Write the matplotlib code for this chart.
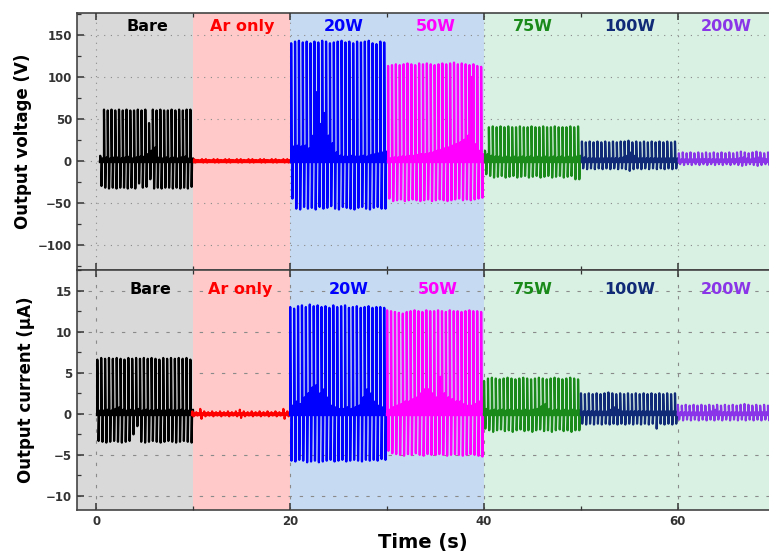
import matplotlib.pyplot as plt
import numpy as np
from matplotlib.ticker import MultipleLocator

# treatment windows (s)
seg_names = ['Bare', 'Ar only', '20W', '50W', '75W', '100W', '200W']
seg_start_v = [0.4, 10.1, 20.1, 30.1, 40.1, 50.1, 60.1]
seg_start_i = [0.1, 9.9, 20.0, 30.0, 40.0, 50.0, 60.0]
seg_end = [10.0, 20.0, 30.0, 40.0, 50.0, 60.0, 70.0]
seg_colors = ['#000000', '#ff0000', '#0000ff', '#ff00ff', '#1a8a1a', '#102a78', '#8a35e8']

# shaded backgrounds
bg_start = [-2, 10, 20, 40]
bg_end = [10, 20, 40, 72]
bg_colors = ['#d9d9d9', '#ffc9c9', '#c6daf1', '#d8f1e2']

# output voltage (V): positive peak, negative peak, secondary bump per cycle
bare_v_pos = [6, 61, 60, 61, 60, 61, 60, 61, 60, 60, 61, 60, 61, 45, 61, 60, 61, 60, 60, 61, 60, 61, 60, 61, 61]
bare_v_neg = [-30, -32, -33, -32, -33, -32, -32, -33, -32, -33, -27, -32, -31, -22, -33, -32, -33, -32, -32, -33, -32, -33, -32, -33, -31]
bare_v_mid = [3, 4, 3, 4, 4, 3, 4, 5, 3, 4, 5, 5, 8, 12, 16, 4, 3, 4, 3, 4, 3, 4, 5, 3, 3]

ar_v_pos = [2, 1, 2, 2, 1, 2, 2, 1, 2, 2, 1, 2, 2, 1, 2, 2, 1, 2, 2, 1, 2, 2, 1, 2, 2]
ar_v_neg = [-2, -1, -2, -2, -1, -2, -2, -1, -2, -2, -1, -2, -2, -1, -2, -2, -1, -2, -2, -1, -2, -2, -1, -2, -2]
ar_v_mid = [1, 1, 1, 1, 1, 1, 1, 1, 1, 1, 1, 1, 1, 1, 1, 1, 1, 1, 1, 1, 1, 1, 1, 1, 1]

w20_v_pos = [140, 142, 143, 141, 142, 140, 142, 141, 143, 142, 140, 141, 142, 143, 141, 142, 140, 142, 141, 142, 143, 140, 139, 142, 141]
w20_v_neg = [-45, -57, -58, -55, -57, -56, -58, -55, -57, -56, -54, -57, -58, -55, -56, -57, -58, -56, -55, -57, -58, -56, -55, -57, -57]
w20_v_mid = [17, 18, 17, 18, 15, 30, 82, 44, 57, 30, 21, 10, 6, 5, 5, 6, 5, 5, 6, 5, 7, 8, 9, 10, 11]

w50_v_pos = [113, 114, 115, 114, 115, 116, 115, 114, 116, 115, 116, 115, 114, 115, 116, 115, 116, 117, 115, 116, 115, 114, 115, 113, 112]
w50_v_neg = [-45, -48, -47, -46, -48, -47, -46, -47, -48, -47, -46, -48, -47, -46, -47, -48, -47, -46, -45, -47, -46, -47, -46, -45, -44]
w50_v_mid = [3, 4, 4, 5, 5, 6, 6, 7, 8, 8, 9, 10, 12, 13, 15, 16, 18, 20, 22, 25, 30, 100, 20, 12, 8]

w75_v_pos = [12, 40, 41, 40, 41, 40, 41, 40, 40, 41, 40, 40, 41, 40, 40, 41, 40, 40, 41, 40, 40, 40, 41, 40, 41]
w75_v_neg = [-16, -18, -20, -19, -18, -20, -19, -18, -20, -19, -18, -20, -19, -18, -20, -19, -18, -20, -19, -18, -20, -19, -18, -22, -22]
w75_v_mid = [8, 6, 5, 5, 4, 5, 4, 5, 4, 5, 4, 5, 4, 5, 4, 5, 4, 5, 4, 5, 4, 5, 4, 5, 6]

w100_v_pos = [23, 22, 23, 22, 23, 22, 23, 22, 23, 22, 23, 23, 24, 22, 23, 22, 23, 22, 23, 22, 23, 22, 23, 22, 23]
w100_v_neg = [-9, -10, -9, -10, -9, -10, -9, -10, -9, -10, -9, -10, -12, -10, -9, -10, -9, -10, -9, -10, -9, -10, -9, -10, -9]
w100_v_mid = [4, 3, 3, 3, 3, 3, 3, 3, 3, 3, 4, 6, 10, 6, 3, 3, 3, 3, 3, 3, 3, 3, 3, 3, 3]

w200_v_pos = [9, 10, 9, 10, 9, 10, 9, 10, 9, 10, 9, 10, 9, 10, 9, 10, 11, 10, 9, 10, 11, 10, 9, 10, 9]
w200_v_neg = [-4, -5, -4, -5, -4, -5, -4, -5, -4, -5, -4, -5, -4, -5, -4, -5, -6, -5, -4, -5, -6, -5, -4, -5, -4]
w200_v_mid = [2, 2, 2, 2, 2, 2, 2, 2, 2, 2, 2, 2, 2, 2, 2, 3, 4, 3, 2, 3, 4, 3, 2, 2, 2]

# output current (uA)
bare_i_pos = [6.6, 6.8, 6.7, 6.8, 6.7, 6.8, 6.7, 6.6, 6.8, 6.7, 6.8, 6.7, 6.8, 6.7, 6.8, 6.7, 6.6, 6.8, 6.7, 6.8, 6.7, 6.8, 6.7, 6.8, 6.6]
bare_i_neg = [-3.3, -3.4, -3.5, -3.4, -3.3, -3.4, -3.5, -3.4, -3.3, -2.5, -1.5, -3.4, -3.5, -3.4, -3.3, -3.4, -3.5, -3.4, -3.3, -3.4, -3.5, -3.4, -3.3, -3.4, -3.5]
bare_i_mid = [0.4, 0.4, 0.5, 0.4, 0.6, 0.8, 0.5, 0.4, 0.5, 0.4, 0.6, 0.4, 0.5, 0.4, 0.4, 0.5, 0.4, 0.4, 0.5, 0.4, 0.4, 0.5, 0.4, 0.4, 0.5]

ar_i_pos = [0.3, 0.2, 0.6, 0.3, 0.2, 0.3, 0.2, 0.3, 0.2, 0.3, 0.2, 0.3, 0.5, 0.3, 0.2, 0.3, 0.2, 0.3, 0.2, 0.3, 0.2, 0.3, 0.2, 0.6, 0.3]
ar_i_neg = [-0.3, -0.2, -0.6, -0.3, -0.2, -0.3, -0.2, -0.3, -0.2, -0.3, -0.2, -0.3, -0.5, -0.3, -0.2, -0.3, -0.2, -0.3, -0.2, -0.3, -0.2, -0.3, -0.2, -0.6, -0.3]
ar_i_mid = [0.1, 0.1, 0.1, 0.1, 0.1, 0.1, 0.1, 0.1, 0.1, 0.1, 0.1, 0.1, 0.1, 0.1, 0.1, 0.1, 0.1, 0.1, 0.1, 0.1, 0.1, 0.1, 0.1, 0.1, 0.1]

w20_i_pos = [13.0, 12.8, 13.1, 13.2, 13.0, 13.3, 13.1, 13.2, 13.0, 13.1, 12.9, 13.2, 13.0, 13.1, 13.2, 12.9, 13.0, 13.1, 12.9, 13.0, 13.1, 12.9, 13.0, 13.0, 12.9]
w20_i_neg = [-5.7, -5.8, -5.6, -5.7, -5.9, -5.8, -5.7, -5.9, -5.8, -5.7, -5.6, -5.8, -5.7, -5.6, -5.8, -5.7, -5.6, -5.7, -5.8, -5.6, -5.7, -5.6, -5.7, -5.5, -5.6]
w20_i_mid = [1.0, 1.5, 1.2, 2.0, 2.5, 3.2, 3.5, 2.5, 3.0, 2.0, 1.0, 0.8, 0.6, 0.6, 0.8, 0.6, 0.8, 1.0, 2.0, 3.0, 2.5, 1.5, 1.0, 0.8, 0.6]

w50_i_pos = [12.6, 12.5, 12.4, 12.3, 12.2, 12.4, 12.5, 12.6, 12.5, 12.4, 12.6, 12.5, 12.5, 12.6, 12.5, 12.4, 12.6, 12.5, 12.5, 12.4, 12.5, 12.6, 12.5, 12.5, 12.4]
w50_i_neg = [-4.5, -4.8, -4.9, -5.0, -5.1, -4.9, -5.0, -4.8, -5.0, -5.1, -4.9, -5.0, -5.0, -4.9, -5.0, -5.1, -5.0, -4.9, -5.0, -5.1, -5.0, -4.9, -5.0, -5.1, -5.2]
w50_i_mid = [0.5, 0.8, 1.0, 1.2, 1.5, 1.5, 1.8, 2.0, 2.5, 3.0, 3.0, 2.5, 2.0, 4.5, 2.5, 2.0, 1.8, 1.5, 1.5, 1.2, 1.0, 1.0, 1.2, 1.5, 2.0]

w75_i_pos = [4.0, 4.3, 4.4, 4.3, 4.2, 4.3, 4.4, 4.3, 4.2, 4.3, 4.4, 4.3, 4.2, 4.3, 4.4, 4.3, 4.2, 4.3, 4.4, 4.3, 4.2, 4.3, 4.4, 4.3, 4.2]
w75_i_neg = [-1.8, -2.0, -2.2, -2.0, -1.9, -2.1, -2.0, -2.2, -2.0, -1.9, -2.1, -2.0, -2.2, -2.0, -1.9, -2.1, -2.0, -2.2, -2.0, -1.9, -2.1, -2.0, -2.2, -2.0, -2.0]
w75_i_mid = [0.6, 0.4, 0.5, 0.4, 0.5, 0.4, 0.5, 0.4, 0.5, 0.4, 0.5, 0.4, 0.5, 0.6, 0.9, 1.2, 0.6, 0.4, 0.5, 0.4, 0.5, 0.4, 0.5, 0.4, 0.5]

w100_i_pos = [2.5, 2.4, 2.5, 2.4, 2.5, 2.4, 2.5, 2.6, 2.5, 2.4, 2.5, 2.4, 2.5, 2.4, 2.5, 2.4, 2.5, 2.4, 2.5, 2.4, 2.5, 2.4, 2.5, 2.4, 2.5]
w100_i_neg = [-1.2, -1.3, -1.2, -1.3, -1.2, -1.3, -1.2, -1.3, -1.2, -1.3, -1.2, -1.3, -1.2, -1.3, -1.2, -1.3, -1.2, -1.3, -1.2, -1.8, -1.2, -1.3, -1.2, -1.3, -1.2]
w100_i_mid = [0.3, 0.3, 0.3, 0.3, 0.3, 0.3, 0.3, 0.5, 0.8, 0.5, 0.3, 0.3, 0.3, 0.3, 0.3, 0.3, 0.3, 0.3, 0.3, 0.3, 0.3, 0.3, 0.3, 0.3, 0.3]

w200_i_pos = [1.1, 1.0, 1.1, 1.0, 1.1, 1.0, 1.1, 1.0, 1.1, 1.0, 1.1, 1.0, 1.1, 1.0, 1.1, 1.0, 1.1, 1.2, 1.1, 1.0, 1.1, 1.0, 1.1, 1.0, 1.1]
w200_i_neg = [-0.7, -0.8, -0.7, -0.8, -0.7, -0.8, -0.7, -0.8, -0.7, -0.8, -0.7, -0.8, -0.7, -0.8, -0.7, -0.8, -0.7, -0.8, -0.7, -0.8, -0.7, -0.8, -0.7, -0.8, -0.7]
w200_i_mid = [0.2, 0.2, 0.2, 0.2, 0.2, 0.2, 0.2, 0.2, 0.3, 0.5, 0.3, 0.2, 0.2, 0.2, 0.2, 0.2, 0.2, 0.2, 0.2, 0.2, 0.2, 0.2, 0.2, 0.2, 0.2]

volt = [(bare_v_pos, bare_v_neg, bare_v_mid), (ar_v_pos, ar_v_neg, ar_v_mid),
        (w20_v_pos, w20_v_neg, w20_v_mid), (w50_v_pos, w50_v_neg, w50_v_mid),
        (w75_v_pos, w75_v_neg, w75_v_mid), (w100_v_pos, w100_v_neg, w100_v_mid),
        (w200_v_pos, w200_v_neg, w200_v_mid)]
curr = [(bare_i_pos, bare_i_neg, bare_i_mid), (ar_i_pos, ar_i_neg, ar_i_mid),
        (w20_i_pos, w20_i_neg, w20_i_mid), (w50_i_pos, w50_i_neg, w50_i_mid),
        (w75_i_pos, w75_i_neg, w75_i_mid), (w100_i_pos, w100_i_neg, w100_i_mid),
        (w200_i_pos, w200_i_neg, w200_i_mid)]

label_x_v = [5.3, 15.0, 25.5, 35.0, 45.0, 55.0, 65.0]
label_x_i = [5.6, 14.8, 26.0, 35.2, 45.0, 55.0, 65.0]


def trace(ax, t0, t1, pos, neg, mid, color):
    "dibuja un tren de pulsos: pico positivo, pico negativo y rebote"
    times = np.linspace(t0, t1 - 0.3, len(pos))
    xs, ys = [t0], [0]
    for t, p, q, m in zip(times, pos, neg, mid):
        xs += [t, t, t + 0.05, t + 0.13, t + 0.13, t + 0.18, t + 0.27, t + 0.31]
        ys += [0, p, 0, 0, q, 0, m, 0]
    ax.plot(xs, ys, color=color, lw=1.6, zorder=3)
    ax.plot([t0, t1], [0, 0], color=color, lw=2.4, zorder=3)


def style(ax, grid_ls):
    for s, e, c in zip(bg_start, bg_end, bg_colors):
        ax.axvspan(s, e, color=c, lw=0, zorder=0)
    ax.set_xlim(-2, 69.4)
    ax.xaxis.set_major_locator(MultipleLocator(20))
    ax.xaxis.set_minor_locator(MultipleLocator(10))
    ax.tick_params(which='both', direction='in', colors='#333333', labelsize=8.5, top=True)
    ax.tick_params(which='major', length=5, width=1.1)
    ax.tick_params(which='minor', length=3, width=0.9)
    for lab in ax.get_xticklabels() + ax.get_yticklabels():
        lab.set_fontweight('bold')
    ax.grid(True, which='major', color='#8a8a8a', lw=0.8, linestyle=grid_ls, zorder=1)
    ax.set_axisbelow(False)
    for sp in ['left', 'bottom', 'top']:
        ax.spines[sp].set_color('#444444')
        ax.spines[sp].set_linewidth(1.2)
    ax.spines['right'].set_visible(False)


fig = plt.figure(figsize=(7.69, 5.56), dpi=100)
ax1 = fig.add_axes([0.1001, 0.5144, 0.8999, 0.4622])
ax2 = fig.add_axes([0.1001, 0.0827, 0.8999, 0.4317])

for k in range(len(seg_names)):
    p, q, m = volt[k]
    trace(ax1, seg_start_v[k], seg_end[k], p, q, m, seg_colors[k])
    p, q, m = curr[k]
    trace(ax2, seg_start_i[k], seg_end[k], p, q, m, seg_colors[k])
    ax1.text(label_x_v[k], 160, seg_names[k], color=seg_colors[k], fontsize=11.5,
             fontweight='bold', ha='center', va='center', zorder=4)
    ax2.text(label_x_i[k], 15.1, seg_names[k], color=seg_colors[k], fontsize=11.5,
             fontweight='bold', ha='center', va='center', zorder=4)

ax1.set_ylim(-130, 176)
ax1.yaxis.set_major_locator(MultipleLocator(50))
ax1.yaxis.set_minor_locator(MultipleLocator(25))
style(ax1, (0, (1, 5)))
ax1.tick_params(labelbottom=False)

ax2.set_ylim(-11.7, 17.5)
ax2.yaxis.set_major_locator(MultipleLocator(5))
ax2.yaxis.set_minor_locator(MultipleLocator(2.5))
style(ax2, (0, (3, 7)))

ax1.set_ylabel('Output voltage (V)', fontsize=12, fontweight='bold', labelpad=4)
ax2.set_ylabel('Output current (\u03bcA)', fontsize=12, fontweight='bold', labelpad=8)
ax2.set_xlabel('Time (s)', fontsize=14, fontweight='bold', labelpad=4)

fig.savefig('out.png', dpi=100)
